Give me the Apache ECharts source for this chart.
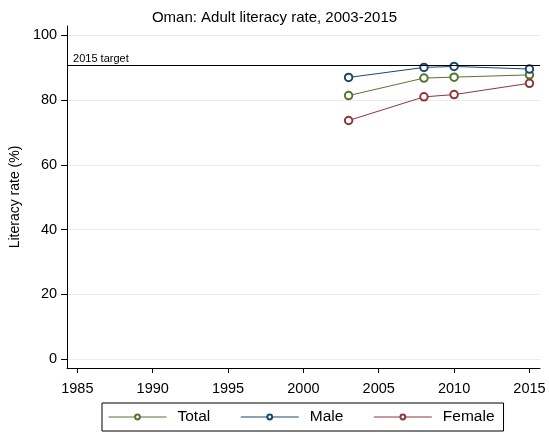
<!DOCTYPE html>
<html>
<head>
<meta charset="utf-8">
<script src="https://cdn.jsdelivr.net/npm/echarts@6/dist/echarts.min.js"></script>
<style>
  html, body { margin: 0; padding: 0; background: #fff; }
  #chart { width: 549px; height: 433px; }
</style>
</head>
<body>
<div id="chart"></div>
<script>
// survey years and literacy rates (%)
var years = [2003, 2008, 2010, 2015];
var total = [81.4, 86.8, 87.1, 87.8];
var male = [87.0, 90.1, 90.4, 89.6];
var female = [73.7, 81.0, 81.7, 85.2];
var target = 90.7;
var xTicks = [1985, 1990, 1995, 2000, 2005, 2010, 2015];
var yTicks = [0, 20, 40, 60, 80, 100];

function pairs(vals) {
  return years.map(function (y, i) { return [y, vals[i]]; });
}

var font = 'Liberation Sans, Arial, sans-serif';

function lineSeries(name, vals, color) {
  return {
    name: name,
    type: 'line',
    data: pairs(vals),
    symbol: 'emptyCircle',
    symbolSize: 7.5,
    lineStyle: { color: color, width: 1 },
    itemStyle: { color: color, borderWidth: 0.9 },
    emphasis: { disabled: true }
  };
}

var myChart = echarts.init(document.getElementById('chart'));
var series = [
  lineSeries('Total', total, '#55752f'),
  lineSeries('Male', male, '#1a476f'),
  lineSeries('Female', female, '#90353b')
];
// horizontal reference line for the 2015 goal
series[0].markLine = {
  silent: true,
  symbol: 'none',
  data: [{ yAxis: target }],
  lineStyle: { color: '#000', width: 1.2, type: 'solid' },
  label: {
    show: true,
    position: 'insideStartTop',
    formatter: '2015 target',
    color: '#000',
    fontSize: 11,
    fontFamily: font,
    distance: [6, 1]
  }
};

var option = {
  backgroundColor: '#fff',
  animation: false,
  title: {
    text: 'Oman: Adult literacy rate, 2003-2015',
    left: 'center',
    top: 5,
    textStyle: { fontSize: 15, fontWeight: 'normal', color: '#000', fontFamily: font }
  },
  grid: { left: 67, right: 9, top: 26, bottom: 65 },
  xAxis: {
    type: 'value',
    min: 1984.32,
    max: 2015.7,
    axisLine: { onZero: false, lineStyle: { color: '#000', width: 1 } },
    axisTick: { show: true, inside: false, length: 5, customValues: xTicks, lineStyle: { color: '#000' } },
    axisLabel: {
      customValues: xTicks, color: '#000', fontSize: 14.5, fontFamily: font, margin: 13,
      formatter: function (v) { return String(v); }
    },
    splitLine: { show: false }
  },
  yAxis: {
    type: 'value',
    min: -2.78,
    max: 102.9,
    name: 'Literacy rate (%)',
    nameLocation: 'middle',
    nameGap: 43,
    nameTextStyle: { fontSize: 14, color: '#000', fontFamily: font },
    axisLine: { show: true, onZero: false, lineStyle: { color: '#000', width: 1 } },
    axisTick: { show: true, inside: false, length: 6, customValues: yTicks, lineStyle: { color: '#000' } },
    axisLabel: { customValues: yTicks, color: '#000', fontSize: 14.5, fontFamily: font, margin: 10 },
    splitLine: { show: true, lineStyle: { color: '#ebebeb', width: 1 } }
  },
  legend: {
    left: 102,
    top: 403,
    itemWidth: 58,
    itemHeight: 6,
    itemGap: 30,
    padding: [6, 9, 6, 6],
    borderColor: '#000',
    borderWidth: 1,
    backgroundColor: '#fff',
    lineStyle: { width: 1 },
    itemStyle: { borderWidth: 1 },
    textStyle: { fontSize: 15.5, color: '#000', fontFamily: font, padding: [0, 0, 0, 6] },
    data: ['Total', 'Male', 'Female']
  },
  series: series
};
myChart.setOption(option);
</script>
</body>
</html>
